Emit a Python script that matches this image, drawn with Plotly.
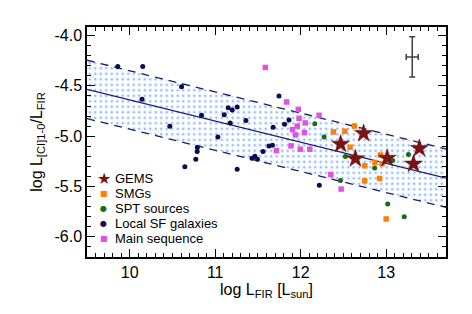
import plotly.graph_objects as go

# ---------------- data ----------------
gems_x = [12.736, 12.467, 12.640, 13.012, 13.389, 13.320]
gems_y = [-4.972, -5.078, -5.223, -5.218, -5.121, -5.276]

smg_x = [12.383, 12.517, 12.629, 12.578, 12.933, 12.750, 12.869, 12.951, 12.748, 12.924, 13.000]
smg_y = [-4.957, -4.950, -4.898, -5.109, -5.187, -5.294, -5.261, -5.274, -5.443, -5.420, -5.822]

spt_x = [12.165, 12.274, 12.523, 12.865, 13.076, 13.261, 12.465, 13.018, 13.211]
spt_y = [-4.876, -5.007, -5.202, -5.317, -5.242, -5.182, -5.441, -5.673, -5.801]

local_x = [9.860, 10.152, 10.606, 10.144, 10.840, 10.469, 11.746, 11.152, 11.199, 11.257,
           11.105, 11.359, 11.175, 11.031, 11.678, 11.811, 11.863, 11.629, 11.670, 11.559,
           11.430, 11.465, 11.494, 11.257, 10.791, 10.789, 10.773, 10.645, 12.218]
local_y = [-4.307, -4.307, -4.509, -4.634, -4.792, -4.901, -4.601, -4.717, -4.740, -4.710,
           -4.786, -4.844, -4.868, -5.007, -4.911, -4.880, -4.839, -5.096, -5.089, -5.152,
           -5.218, -5.200, -5.228, -5.327, -5.111, -5.152, -5.230, -5.304, -5.487]

ms_x = [11.586, 11.836, 11.972, 11.981, 12.053, 11.959, 11.904, 12.043, 11.940, 12.215,
        11.717, 11.887, 11.995, 12.107, 12.353, 12.473]
ms_y = [-4.317, -4.660, -4.733, -4.822, -4.868, -4.900, -4.935, -4.964, -4.987, -4.792,
        -5.143, -5.096, -5.129, -5.129, -5.381, -5.525]

# fit relation and scatter band
fit_slope = -0.21
fit_intercept = -2.54
fit_scatter = 0.29
x_range = [9.5, 13.7]
y_range = [-6.2, -3.915]

# representative error bar
err_x, err_y = [13.305], [-4.212]
err_dx, err_dy = [0.07], [0.2]

x_tickvals = [10, 11, 12, 13]
x_ticktext = ["10", "11", "12", "13"]
y_tickvals = [-6.0, -5.5, -5.0, -4.5, -4.0]
y_ticktext = ["-6.0", "-5.5", "-5.0", "-4.5", "-4.0"]

legend_names = ["GEMS", "SMGs", "SPT sources", "Local SF galaxies", "Main sequence"]

# ---------------- styles ----------------
FONT = "Liberation Sans, Arial, Helvetica, sans-serif"
C_GEMS = "#7d1212"
C_SMG = "#ff8000"
C_SPT = "#166b16"
C_LOCAL = "#0b0b4f"
C_MS = "#e052e0"
C_LINE = "#1c1c70"
C_DOTS = "#2a7fff"

fig = go.Figure()

fit_line_y = [fit_slope * x + fit_intercept for x in x_range]
lower_y = [v - fit_scatter for v in fit_line_y]
upper_y = [v + fit_scatter for v in fit_line_y]

fig.add_trace(go.Scatter(x=x_range, y=lower_y, mode="lines",
                         line=dict(color=C_LINE, width=1.3, dash="8px,6px"), hoverinfo="skip"))
fig.add_trace(go.Scatter(x=x_range, y=upper_y, mode="lines", fill="tonexty",
                         fillcolor="rgba(0,0,0,0)",
                         fillpattern=dict(shape=".", fgcolor=C_DOTS, bgcolor="rgba(255,255,255,0)",
                                          size=5.5, solidity=0.2),
                         line=dict(color=C_LINE, width=1.3, dash="8px,6px"), hoverinfo="skip"))
fig.add_trace(go.Scatter(x=x_range, y=fit_line_y, mode="lines",
                         line=dict(color=C_LINE, width=1.3)))

fig.add_trace(go.Scatter(x=local_x, y=local_y, mode="markers", name=legend_names[3],
                         marker=dict(symbol="circle", size=5, color=C_LOCAL)))
fig.add_trace(go.Scatter(x=ms_x, y=ms_y, mode="markers", name=legend_names[4],
                         marker=dict(symbol="square", size=5.5, color=C_MS)))
fig.add_trace(go.Scatter(x=spt_x, y=spt_y, mode="markers", name=legend_names[2],
                         marker=dict(symbol="circle", size=5, color=C_SPT)))
fig.add_trace(go.Scatter(x=smg_x, y=smg_y, mode="markers", name=legend_names[1],
                         marker=dict(symbol="square", size=5.5, color=C_SMG)))
fig.add_trace(go.Scatter(x=gems_x, y=gems_y, mode="markers", name=legend_names[0],
                         marker=dict(symbol="star", size=13.5, color=C_GEMS,
                                     line=dict(color="#5a0a0a", width=0.5))))

fig.add_trace(go.Scatter(x=err_x, y=err_y, mode="markers", marker=dict(size=1, color="#404040"),
                         error_x=dict(type="data", array=err_dx, color="#404040", thickness=1.5, width=3),
                         error_y=dict(type="data", array=err_dy, color="#404040", thickness=1.5, width=3)))

# manual compact legend
legend_syms = ["★", "■", "●", "●", "■"]
legend_cols = [C_GEMS, C_SMG, C_SPT, C_LOCAL, C_MS]
legend_sizes = [16, 8, 8, 8, 8]
legend_rows = [0.342, 0.278, 0.213, 0.147, 0.081]
for name, sym, col, sz, yy in zip(legend_names, legend_syms, legend_cols, legend_sizes, legend_rows):
    fig.add_annotation(xref="paper", yref="paper", x=0.047, y=yy, text=sym, showarrow=False,
                       xanchor="center", yanchor="middle", font=dict(color=col, size=sz, family="DejaVu Sans"))
    fig.add_annotation(xref="paper", yref="paper", x=0.0724, y=yy, text=name, showarrow=False,
                       xanchor="left", yanchor="middle", font=dict(color="black", size=13, family=FONT))

axis_common = dict(showline=True, linecolor="black", linewidth=1.5, mirror="ticks",
                   ticks="inside", ticklen=8, tickwidth=1, tickcolor="black",
                   showgrid=False, zeroline=False,
                   tickfont=dict(size=16, family=FONT, color="black"))

fig.update_xaxes(range=x_range, tickmode="array", tickvals=x_tickvals, ticktext=x_ticktext,
                 minor=dict(ticks="inside", ticklen=4, tickmode="linear", tick0=0, dtick=0.1,
                            tickcolor="black", showgrid=False),
                 title=dict(text="log L<sub>FIR</sub> [L<sub>sun</sub>]", font=dict(size=16, family=FONT),
                            standoff=2),
                 **axis_common)
fig.update_yaxes(range=y_range, tickmode="array", tickvals=y_tickvals, ticktext=y_ticktext,
                 minor=dict(ticks="inside", ticklen=4, tickmode="linear", tick0=0, dtick=0.1,
                            tickcolor="black", showgrid=False),
                 title=dict(text="log L<sub>[CI]1-0</sub>/L<sub>FIR</sub>", font=dict(size=16, family=FONT),
                            standoff=8),
                 **axis_common)

fig.update_layout(width=472, height=314, margin=dict(l=87, r=26, t=27, b=57),
                  plot_bgcolor="white", paper_bgcolor="white", showlegend=False,
                  font=dict(family=FONT, size=16, color="black"))

fig.write_html("out.html", config={"displayModeBar": False},
               post_script="document.body.style.margin='0';")
